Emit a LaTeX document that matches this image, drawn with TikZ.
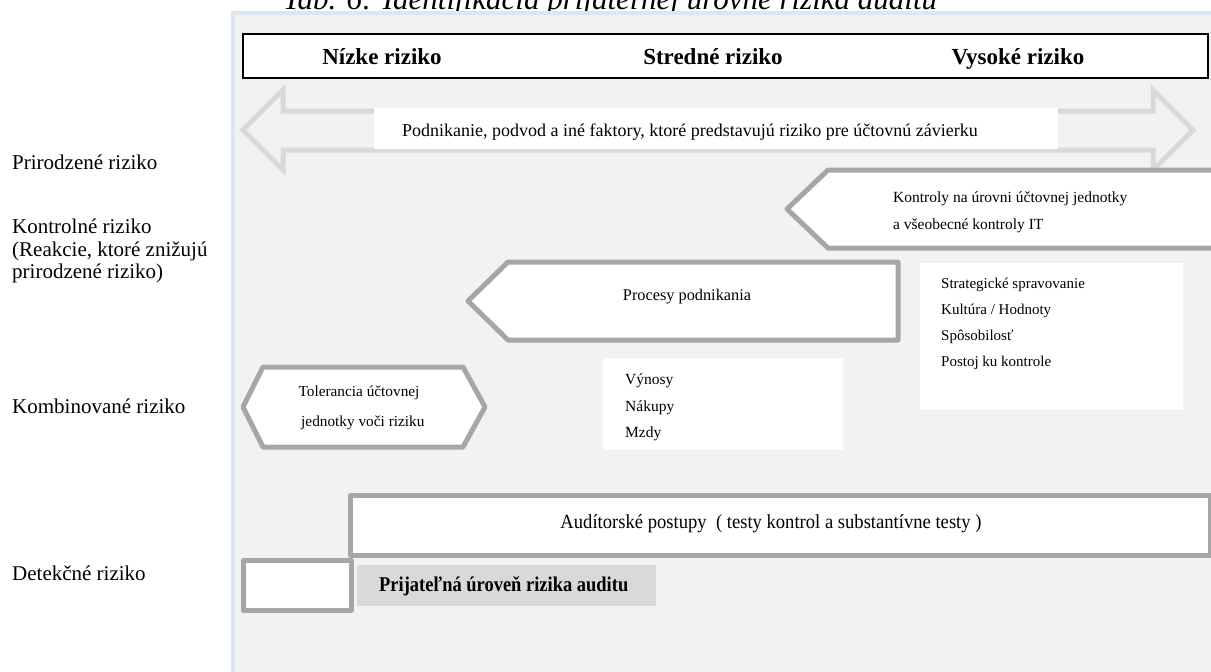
\documentclass[tikz,border=0pt]{standalone}
\usepackage{fontspec}
\setmainfont{Liberation Serif}[ItalicFont={Liberation Serif Italic},BoldFont={Liberation Serif Bold}]
\definecolor{panel}{HTML}{F2F2F2}
\definecolor{panelborder}{HTML}{DCE6F2}
\definecolor{lightline}{HTML}{D9D9D9}
\definecolor{darkline}{HTML}{A6A6A6}
\definecolor{labelgrey}{HTML}{D9D9D9}
\tikzset{
  rowlabel/.style={anchor=west, align=left, inner sep=0pt, font=\fontsize{21}{22.5}\selectfont},
  headtext/.style={inner sep=0pt, anchor=base, font=\bfseries\fontsize{23}{26}\selectfont},
  bodytext/.style={inner sep=0pt, font=\fontsize{15.5}{27}\selectfont},
  darkshape/.style={draw=darkline, line width=5pt, fill=white, line join=round},
  lightshape/.style={draw=lightline, line width=5pt, line join=miter},
}
\begin{document}
\begin{tikzpicture}[x=1pt,y=-1pt]
\useasboundingbox (0,0) rectangle (1211,672);
\fill[white] (0,0) rectangle (1211,672);
% title (cut at the top)
\node[anchor=base west, inner sep=0pt, font=\itshape\fontsize{31}{31}\selectfont] (title) at (283,9) {Tab. 6: Identifikácia prijateľnej úrovne rizika auditu};
% panel
\fill[panel] (233,13) rectangle (1211,672);
\draw[panelborder, line width=4pt] (233,672) -- (233,13) -- (1211,13);
% header
\node[draw=black, line width=2pt, fill=white, minimum width=965pt, minimum height=44pt, anchor=north west, inner sep=0pt] (header) at (242,33) {};
\node[headtext] (low) at (382,64) {Nízke riziko};
\node[headtext] (mid) at (713,64) {Stredné riziko};
\node[headtext] (high) at (1018,64) {Vysoké riziko};
% row labels
\node[rowlabel] (inh) at (12,162) {Prirodzené riziko};
\node[rowlabel] (ctrl) at (12,251) {Kontrolné riziko\\(Reakcie, ktoré znižujú\\prirodzené riziko)};
\node[rowlabel] (comb) at (12,406) {Kombinované riziko};
\node[rowlabel] (det) at (12,573) {Detekčné riziko};
% double arrow
\draw[lightshape] (243,130) -- (283,90) -- (283,111) -- (1153,111) -- (1153,90) -- (1193,130) -- (1153,170) -- (1153,150) -- (283,150) -- (283,170) -- cycle;
\fill[white] (374,108) rectangle (1058,149);
\node[bodytext, font=\fontsize{18}{20}\selectfont] (factors) at (690,132) {Podnikanie, podvod a iné faktory, ktoré predstavujú riziko pre účtovnú závierku};
% entity level controls
\draw[darkshape] (787,209) -- (828,170) -- (1225,170) -- (1225,248) -- (828,248) -- cycle;
\node[bodytext, anchor=west, align=left] (entity) at (893,212) {Kontroly na úrovni účtovnej jednotky\\a všeobecné kontroly IT};
% business processes
\draw[darkshape] (468,301) -- (508,262) -- (898,262) -- (898,340) -- (508,340) -- cycle;
\node[bodytext, font=\fontsize{16.3}{20}\selectfont] (proc) at (687,297) {Procesy podnikania};
% governance list
\node[fill=white, minimum width=263pt, minimum height=147pt, anchor=north west, inner sep=0pt] (govbox) at (920,263) {};
\node[bodytext, anchor=north west, align=left, font=\fontsize{15}{26}\selectfont] (gov) at (941,278) {Strategické spravovanie\\Kultúra / Hodnoty\\Spôsobilosť\\Postoj ku kontrole};
% process list
\node[fill=white, minimum width=240pt, minimum height=92pt, anchor=north west, inner sep=0pt] (procbox) at (603,358) {};
\node[bodytext, anchor=north west, align=left, font=\fontsize{15.5}{26.5}\selectfont] (plist) at (625,374) {Výnosy\\Nákupy\\Mzdy};
% tolerance hexagon
\draw[darkshape] (243,407) -- (263,367) -- (463,367) -- (485,407) -- (463,447) -- (263,447) -- cycle;
\node[bodytext, align=center, font=\fontsize{15.3}{30}\selectfont] (tol) at (359,408) {Tolerancia účtovnej\\\ \ jednotky voči riziku};
% audit procedures
\node[darkshape, minimum width=860pt, minimum height=60pt, anchor=north west, inner sep=0pt] (audit) at (348,493) {};
\node[inner sep=0pt, font=\fontsize{20}{22}\selectfont] (audtext) at (771,524) {\scalebox{0.93}[1]{Audítorské postupy \ ( testy kontrol a substantívne testy )}};
% acceptable level
\node[darkshape, minimum width=108pt, minimum height=50pt, anchor=north west, inner sep=0pt] (small) at (241,558) {};
\node[fill=labelgrey, minimum width=299pt, minimum height=41pt, anchor=north west, inner sep=0pt] (accbox) at (357,565) {};
\node[inner sep=0pt, font=\bfseries\fontsize{21}{22}\selectfont, anchor=west] (acc) at (379,586) {\scalebox{0.88}[1]{Prijateľná úroveň rizika auditu}};
\end{tikzpicture}
\end{document}
